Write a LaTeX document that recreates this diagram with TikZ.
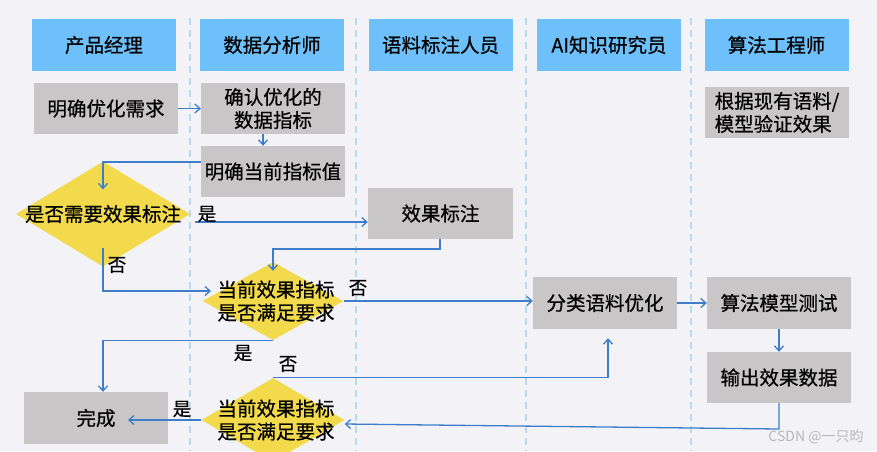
\documentclass[tikz,border=0pt]{standalone}
\usepackage{fontspec}
\usepackage{tikz}
\usetikzlibrary{arrows.meta,shapes.geometric}
\newfontfamily\cjk[FakeBold=0.6]{Noto Sans CJK SC}
\definecolor{bgc}{HTML}{F3F2F7}
\definecolor{hdc}{HTML}{6DC0F9}
\definecolor{boxc}{HTML}{C9C6C8}
\definecolor{diac}{HTML}{F2DA4C}
\definecolor{arc}{HTML}{3D7DCA}
\definecolor{lanec}{HTML}{B2DCF3}
\tikzset{
  hdr/.style   ={fill=hdc, minimum width=144pt, minimum height=52pt,
                 inner sep=0pt, font=\cjk\fontsize{19.5}{23}\selectfont},
  stepbox/.style={fill=boxc, minimum width=144pt, minimum height=51pt,
                 inner sep=0pt, align=center,
                 font=\cjk\fontsize{19.5}{23}\selectfont},
  dia/.style   ={diamond, fill=diac, inner sep=0pt},
  qtxt/.style  ={align=center, inner sep=0pt,
                 font=\cjk\fontsize{19.5}{23}\selectfont},
  lbl/.style   ={inner sep=0pt, font=\cjk\fontsize{18.5}{20}\selectfont},
  flow/.style  ={-{Straight Barb[length=5pt,width=9pt]}, line width=1.3pt, arc},
  lane/.style  ={lanec, dashed, dash pattern=on 7pt off 5pt, line width=1.4pt},
}
\begin{document}
\begin{tikzpicture}[x=1pt,y=-1pt]
  \useasboundingbox[fill=bgc] (0,0) rectangle (877,451);
  % ---- swimlane separators
  \foreach \lx in {190,356,526,691}
    \draw[lane] (\lx,18) -- (\lx,451);
  % ---- lane headers
  \node[hdr] (hPM)  at (104,45)   {产品经理};
  \node[hdr] (hDA)  at (272,45)   {数据分析师};
  \node[hdr] (hAnn) at (440.5,45) {语料标注人员};
  \node[hdr] (hAI)  at (609,45)   {AI知识研究员};
  \node[hdr] (hAlg) at (776.5,45) {算法工程师};
  % ---- process steps
  \node[stepbox] (need)   at (106,108.5)   {明确优化需求};
  \node[stepbox] (idx)    at (273,108.5)   {确认优化的\\数据指标};
  \node[stepbox] (cur)    at (273,171.5)   {明确当前指标值};
  \node[stepbox, align=left] (verify) at (777,112.5) {根据现有语料/\\模型验证效果};
  \node[stepbox, minimum width=145pt] (mark) at (440.5,213.5) {效果标注};
  \node[stepbox, minimum height=52pt] (opt)  at (605,303)   {分类语料优化};
  \node[stepbox, minimum height=52pt] (test) at (779,303)   {算法模型测试};
  \node[stepbox] (out)    at (779,377.5)   {输出效果数据};
  \node[stepbox, minimum height=52pt] (done) at (96,418) {完成};
  % ---- decisions
  \node[dia, minimum width=174pt, minimum height=105pt] (q1) at (103,214) {};
  \node[qtxt] at (q1) {是否需要效果标注};
  \node[dia, minimum width=141pt, minimum height=78pt] (q2) at (273,301) {};
  \node[qtxt] at ([xshift=3pt]q2) {当前效果指标\\是否满足要求};
  \node[dia, minimum width=143pt, minimum height=84pt] (q3) at (273,420) {};
  \node[qtxt] at ([xshift=3pt]q3) {当前效果指标\\是否满足要求};
  \coordinate (q2in) at (211,291);
  % ---- flow
  \draw[flow] (need.east) -- (idx.west);
  \draw[flow] ([xshift=-10pt]idx.south) -- ([xshift=-10pt]cur.north);
  \draw[flow] (cur.west |- 0,162) -| ([yshift=-28pt]q1.north);
  \draw[flow] ([xshift=5pt]q1.east |- 0,222) -- (mark.west |- 0,222);
  \draw[flow] (mark.south -| 440,0) |- (273,249) -- ([yshift=-9pt]q2.north);
  \draw[flow] ([yshift=19pt]q1.south) |- (q2in);
  \draw[flow] (q2.east) -- (q2.east -| opt.west);
  \draw[flow] (opt.east) -- (test.west);
  \draw[flow] (test.south) -- (out.north);
  \draw[flow] (out.south) -- (779,429) -- (q3.east |- 0,424);
  \draw[flow] (q2.south) -| ([xshift=7pt]done.north);
  \draw[flow] (q3.north) -| ([xshift=3pt,yshift=-9pt]opt.south);
  \draw[flow] (q3.west) -- (q3.west -| 128,0);
  % ---- branch labels
  \node[lbl] (y1) at (207,214) {是};
  \node[lbl] (n1) at (117,265) {否};
  \node[lbl] (n2) at (358,288) {否};
  \node[lbl] (y2) at (243,353) {是};
  \node[lbl] (n3) at (288,364) {否};
  \node[lbl] (y3) at (182,409) {是};
  \node[inner sep=0pt, text=black!28, font=\fontspec{Noto Sans CJK SC}\fontsize{14}{16}\selectfont]
    (wm) at (816,437) {CSDN @一只昀};
\end{tikzpicture}
\end{document}
